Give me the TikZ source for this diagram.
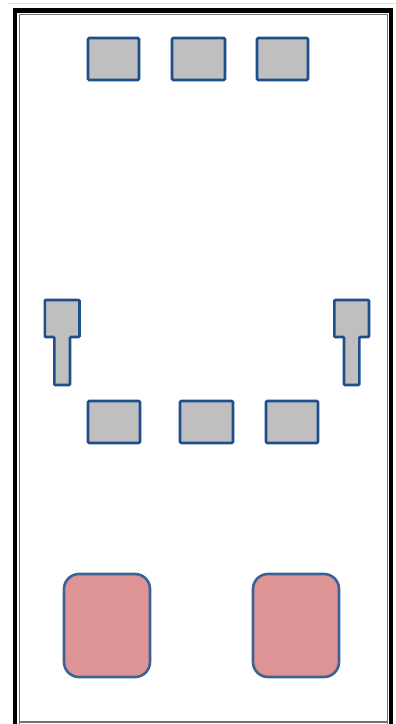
\documentclass[tikz,border=0pt]{standalone}
\definecolor{boxfill}{HTML}{BFBFBF}
\definecolor{boxline}{HTML}{1F4E8C}
\definecolor{pinkfill}{HTML}{DE9494}
\definecolor{pinkline}{HTML}{3A6394}
\begin{document}
\begin{tikzpicture}[x=1pt,y=-1pt,
  gbox/.style={draw=boxline,fill=boxfill,line width=2.6pt,rounded corners=1.2pt,inner sep=0pt,minimum width=51pt,minimum height=42pt},
  pbox/.style={draw=pinkline,fill=pinkfill,line width=2.6pt,rounded corners=15pt,inner sep=0pt,minimum width=86pt,minimum height=103pt},
  tshape/.style={draw=boxline,fill=boxfill,line width=2.6pt,rounded corners=1pt}]
\useasboundingbox (0,0) rectangle (396,724);
% frame
\draw[black!12,line width=0.8pt] (8,3.5) -- (396,3.5);
\draw[black,line width=4.2pt] (15,724) -- (15,10.5) -- (391,10.5) -- (391,724);
\draw[black!55,line width=1.1pt] (19.5,724) -- (19.5,14.5) -- (387.5,14.5) -- (387.5,724);
\draw[black!55,line width=1.2pt] (19.5,722) -- (387.5,722);
% top row
\node[gbox] (t1) at (113.5,59) {};
\node[gbox,minimum width=53pt] (t2) at (198.5,59) {};
\node[gbox] (t3) at (282.5,59) {};
% middle row
\node[gbox,minimum width=52pt] (m1) at (114,422) {};
\node[gbox,minimum width=53pt] (m2) at (206.5,422) {};
\node[gbox,minimum width=52pt] (m3) at (292,422) {};
% T shapes
\draw[tshape] (44.8,300) -- (79.5,300) -- (79.5,337) -- (70,337) -- (70,385) -- (54.3,385) -- (54.3,337) -- (44.8,337) -- cycle;
\draw[tshape] (334.3,300) -- (369,300) -- (369,337) -- (359.3,337) -- (359.3,385) -- (344,385) -- (344,337) -- (334.3,337) -- cycle;
% pink boxes
\node[pbox] (p1) at (107,625.5) {};
\node[pbox] (p2) at (296,625.5) {};
\end{tikzpicture}
\end{document}
